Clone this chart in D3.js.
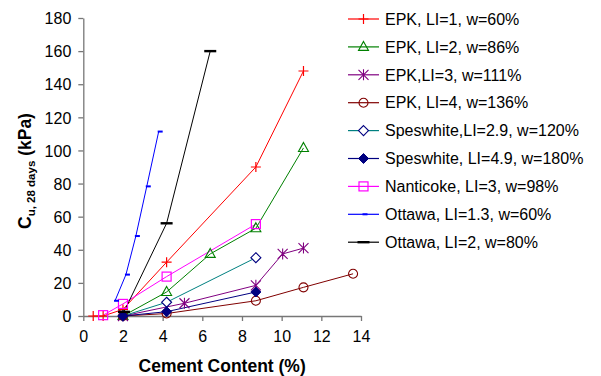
<!DOCTYPE html>
<html>
<head>
<meta charset="utf-8">
<script src="https://cdn.jsdelivr.net/npm/d3@7"></script>
<style>
  body { margin: 0; background: #fff; }
  svg { font-family: "Liberation Sans", Arial, sans-serif; }
</style>
</head>
<body>
<div id="chart"></div>
<script>
// series names, colours and values
const names = ["EPK, LI=1, w=60%", "EPK, LI=2, w=86%", "EPK,LI=3, w=111%", "EPK, LI=4, w=136%",
  "Speswhite,LI=2.9, w=120%", "Speswhite, LI=4.9, w=180%", "Nanticoke, LI=3, w=98%",
  "Ottawa, LI=1.3, w=60%", "Ottawa, LI=2, w=80%"];
const lineColors = ["#ff0000", "#008000", "#800080", "#800000", "#008080", "#000080", "#ff00ff", "#0000ff", "#000000"];
const markColors = ["#ff0000", "#008000", "#800080", "#800000", "#000080", "#000080", "#ff00ff", "#0000ff", "#000000"];
const markers = ["plus", "triangle", "star", "circle", "diamond", "diamondFill", "square", "dashSmall", "dash"];

const epk1X = [0.5, 1, 2, 4.2, 8.7, 11.1];
const epk1Y = [0, 0, 4, 32.5, 90, 148];
const epk2X = [2, 4.2, 6.4, 8.7, 11.1];
const epk2Y = [0, 14.5, 37.5, 53, 101.5];
const epk3X = [2, 5.1, 8.7, 10.05, 11.1];
const epk3Y = [0, 7.7, 18.5, 37.5, 41];
const epk4X = [2, 4.2, 8.7, 11.1, 13.6];
const epk4Y = [0, 1.5, 9.2, 17.3, 25.5];
const spes1X = [2, 4.2, 8.7];
const spes1Y = [0, 8.3, 35.2];
const spes2X = [2, 4.2, 8.7];
const spes2Y = [0, 2.6, 14.5];
const nantX = [1, 2, 4.2, 8.7];
const nantY = [0.5, 7.3, 23.8, 55.5];
const ott1X = [1.6, 2.15, 2.65, 3.2, 3.8];
const ott1Y = [9.2, 25, 48.3, 78.3, 111.4];
const ott2X = [2.05, 4.2, 6.4];
const ott2Y = [2.5, 56, 160];

const xsAll = [epk1X, epk2X, epk3X, epk4X, spes1X, spes2X, nantX, ott1X, ott2X];
const ysAll = [epk1Y, epk2Y, epk3Y, epk4Y, spes1Y, spes2Y, nantY, ott1Y, ott2Y];

const xTicks = [0, 2, 4, 6, 8, 10, 12, 14];
const yTicks = [0, 20, 40, 60, 80, 100, 120, 140, 160, 180];

const W = 601, H = 376;
const svg = d3.select("#chart").append("svg").attr("width", W).attr("height", H);

const x = d3.scaleLinear().domain([0, 14]).range([83.3, 361]);
const y = d3.scaleLinear().domain([0, 180]).range([316, 18]);

// axes
const xAxis = svg.append("g").attr("transform", "translate(0,316)")
  .call(d3.axisBottom(x).tickValues(xTicks).tickSize(5).tickSizeOuter(0));
const yAxis = svg.append("g").attr("transform", "translate(83.3,0)")
  .call(d3.axisLeft(y).tickValues(yTicks).tickSize(5).tickSizeOuter(0));
[xAxis, yAxis].forEach(a => {
  a.selectAll("path, line").attr("stroke", "#777").attr("stroke-width", 1.3);
  a.selectAll("text").attr("fill", "#000").style("font-size", "16px")
    .style("font-family", "Liberation Sans, Arial, sans-serif");
});
xAxis.selectAll("text").attr("y", 10).attr("dy", "1.0em");
yAxis.selectAll("text").attr("x", -12).attr("dy", "0.36em");

svg.append("text").attr("x", x(7)).attr("y", 372).attr("text-anchor", "middle")
  .style("font-size", "17.5px").style("font-weight", "bold").text("Cement Content (%)");

const yt = svg.append("text").attr("transform", "translate(31,171) rotate(-90)")
  .attr("text-anchor", "middle").style("font-size", "17.5px").style("font-weight", "bold");
yt.append("tspan").text("C");
yt.append("tspan").attr("dy", 4).style("font-size", "11.5px").text("u, 28 days");
yt.append("tspan").attr("dy", -4).text(" (kPa)");

// marker drawing
function drawMarker(g, type, color) {
  const s = g.append("g");
  if (type === "plus") {
    s.append("path").attr("d", "M-5,0H5M0,-5V5").attr("stroke", color).attr("stroke-width", 1.2);
  } else if (type === "triangle") {
    s.append("path").attr("d", "M0,-5.5L5,3.5H-5Z").attr("fill", "none").attr("stroke", color).attr("stroke-width", 1.1);
  } else if (type === "star") {
    s.append("path").attr("d", "M-5,-5L5,5M-5,5L5,-5M0,-5.5V5.5").attr("stroke", color).attr("stroke-width", 1.1);
  } else if (type === "circle") {
    s.append("circle").attr("r", 4.5).attr("fill", "none").attr("stroke", color).attr("stroke-width", 1.1);
  } else if (type === "diamond") {
    s.append("path").attr("d", "M0,-5L5,0L0,5L-5,0Z").attr("fill", "#fff").attr("stroke", color).attr("stroke-width", 1.1);
  } else if (type === "diamondFill") {
    s.append("path").attr("d", "M0,-5L5,0L0,5L-5,0Z").attr("fill", color).attr("stroke", color).attr("stroke-width", 1);
  } else if (type === "square") {
    s.append("rect").attr("x", -4.5).attr("y", -4.5).attr("width", 9).attr("height", 9)
      .attr("fill", "none").attr("stroke", color).attr("stroke-width", 1.2);
  } else if (type === "dashSmall") {
    s.append("rect").attr("x", -1).attr("y", -1).attr("width", 5).attr("height", 2).attr("fill", color);
  } else if (type === "dash") {
    s.append("rect").attr("x", -6).attr("y", -1.2).attr("width", 12).attr("height", 2.4).attr("fill", color);
  }
  return s;
}

const line = d3.line().x(d => x(d[0])).y(d => y(d[1]));
const plot = svg.append("g");

names.forEach((name, i) => {
  const pts = xsAll[i].map((v, j) => [v, ysAll[i][j]]);
  plot.append("path").datum(pts).attr("d", line)
    .attr("fill", "none").attr("stroke", lineColors[i]).attr("stroke-width", 1);
});
names.forEach((name, i) => {
  const pts = xsAll[i].map((v, j) => [v, ysAll[i][j]]);
  pts.forEach(p => {
    drawMarker(plot, markers[i], markColors[i]).attr("transform", `translate(${x(p[0])},${y(p[1])})`);
  });
});

// legend
const legend = svg.append("g").attr("transform", "translate(348,19)");
names.forEach((name, i) => {
  const row = legend.append("g").attr("transform", `translate(0,${i * 27.9})`);
  row.append("line").attr("x1", 0).attr("x2", 31).attr("y1", 0).attr("y2", 0)
    .attr("stroke", lineColors[i]).attr("stroke-width", 1.2);
  drawMarker(row, markers[i], markColors[i]).attr("transform", "translate(15.5,0)");
  row.append("text").attr("x", 37).attr("y", 0).attr("dy", "0.36em")
    .style("font-size", "16px").text(name);
});
</script>
</body>
</html>
